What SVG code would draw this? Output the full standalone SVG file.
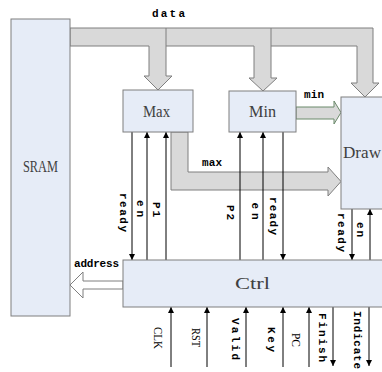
<svg xmlns="http://www.w3.org/2000/svg" width="382" height="372" viewBox="0 0 382 372">
<defs>
<marker id="ah" viewBox="0 0 8 8" refX="8" refY="4" markerWidth="6" markerHeight="6" markerUnits="userSpaceOnUse" orient="auto">
<path d="M0,0 L8,4 L0,8 Z" fill="#000"/>
</marker>
<style>
.box{fill:#e6ecf7;stroke:#7f7f7f;stroke-width:1}
.bus{fill:#d9d9d9;stroke:#7f7f7f;stroke-width:1}
.sig{stroke:#000;stroke-width:1;fill:none;marker-end:url(#ah)}
.bt{font-family:"Liberation Serif",serif;font-size:17px;fill:#404040}
.lb{font-family:"Liberation Mono",monospace;font-size:11px;font-weight:bold;fill:#000}
.ls{font-family:"Liberation Serif",serif;font-size:13px;fill:#000}
</style>
</defs>
<rect width="382" height="372" fill="#fff"/>
<g id="connectors">
<polygon class="bus" points="70,28 373,28 373,83 379,83 365,97 351,83 357,83 357,46 271,46 271,78 277,78 263,91 249,78 254,78 254,46 166,46 166,76 172,76 158,90 144,76 149,76 149,46 70,46"/>
<line x1="166" y1="28" x2="166" y2="46" stroke="#7f7f7f"/>
<line x1="271" y1="28" x2="271" y2="46" stroke="#7f7f7f"/>
<polygon points="296,107 334,107 334,101 341,112.5 334,124 334,119 296,119" fill="#d9d9d9" stroke="#6b8a6b"/>
<polygon class="bus" points="171,132 188,132 188,172 328,172 328,167 341,181.5 328,196 328,190 171,190"/>
<polygon points="123,281 83,281 83,272 70,285 83,298 83,289 123,289" fill="#fff" stroke="#7f7f7f"/>
<line class="sig" x1="132" y1="132" x2="132" y2="260"/>
<line class="sig" x1="147" y1="260" x2="147" y2="132"/>
<line class="sig" x1="166" y1="260" x2="166" y2="132"/>
<line class="sig" x1="240" y1="260" x2="240" y2="132"/>
<line class="sig" x1="263" y1="260" x2="263" y2="132"/>
<line class="sig" x1="283" y1="132" x2="283" y2="260"/>
<line class="sig" x1="352" y1="209" x2="352" y2="260"/>
<line class="sig" x1="370" y1="260" x2="370" y2="209"/>
<line class="sig" x1="171" y1="367" x2="171" y2="307"/>
<line class="sig" x1="207" y1="367" x2="207" y2="307"/>
<line class="sig" x1="246" y1="367" x2="246" y2="307"/>
<line class="sig" x1="283" y1="367" x2="283" y2="307"/>
<line class="sig" x1="309" y1="367" x2="309" y2="307"/>
<line class="sig" x1="333" y1="307" x2="333" y2="366"/>
<line class="sig" x1="369" y1="307" x2="369" y2="366"/>
<text class="lb" x="152" y="17" textLength="33" lengthAdjust="spacing">data</text>
<text class="lb" x="304" y="98" textLength="20" lengthAdjust="spacing">min</text>
<text class="lb" x="202" y="166" textLength="20" lengthAdjust="spacing">max</text>
<text class="lb" x="74" y="267" textLength="45" lengthAdjust="spacing">address</text>
<g text-anchor="middle" dominant-baseline="central">
<text class="lb" transform="translate(122.5,212.5) rotate(90)" textLength="39" lengthAdjust="spacing">ready</text>
<text class="lb" transform="translate(140,208.5) rotate(90)" textLength="17" lengthAdjust="spacing">en</text>
<text class="lb" transform="translate(156,209.5) rotate(90)" textLength="15" lengthAdjust="spacing">P1</text>
<text class="lb" transform="translate(230,212.5) rotate(90)" textLength="15" lengthAdjust="spacing">P2</text>
<text class="lb" transform="translate(254.5,211) rotate(90)" textLength="17" lengthAdjust="spacing">en</text>
<text class="lb" transform="translate(272.5,216) rotate(90)" textLength="38" lengthAdjust="spacing">ready</text>
<text class="lb" transform="translate(341,232.5) rotate(90)" textLength="39" lengthAdjust="spacing">ready</text>
<text class="lb" transform="translate(360,229.5) rotate(90)" textLength="15" lengthAdjust="spacing">en</text>
<text class="ls" transform="translate(158,338) rotate(90)" textLength="22" lengthAdjust="spacingAndGlyphs">CLK</text>
<text class="ls" transform="translate(196,337.5) rotate(90)" textLength="19" lengthAdjust="spacingAndGlyphs">RST</text>
<text class="lb" transform="translate(235,339) rotate(90)" textLength="42" lengthAdjust="spacing">Valid</text>
<text class="lb" transform="translate(271,339.5) rotate(90)" textLength="25" lengthAdjust="spacing">Key</text>
<text class="ls" transform="translate(296,340) rotate(90)" textLength="14" lengthAdjust="spacingAndGlyphs">PC</text>
<text class="lb" transform="translate(322,337.5) rotate(90)" textLength="49" lengthAdjust="spacing">Finish</text>
<text class="lb" transform="translate(357,340) rotate(90)" textLength="58" lengthAdjust="spacing">Indicate</text>
</g>
</g>
<g id="SRAM">
<rect class="box" x="11" y="19" width="59" height="297"/>
<text class="bt" x="23" y="172" textLength="35" lengthAdjust="spacingAndGlyphs">SRAM</text>
</g>
<g id="Max">
<rect class="box" x="123" y="90" width="70" height="42"/>
<text class="bt" x="143" y="117" textLength="27" lengthAdjust="spacingAndGlyphs">Max</text>
</g>
<g id="Min">
<rect class="box" x="229" y="91" width="67" height="41"/>
<text class="bt" x="249" y="117" textLength="27" lengthAdjust="spacingAndGlyphs">Min</text>
</g>
<g id="Draw">
<rect class="box" x="341" y="97" width="50" height="112"/>
<text class="bt" x="343" y="158" textLength="38" lengthAdjust="spacingAndGlyphs">Draw</text>
</g>
<g id="Ctrl">
<rect class="box" x="123" y="260" width="268" height="47"/>
<text class="bt" x="235" y="289" textLength="35" lengthAdjust="spacingAndGlyphs">Ctrl</text>
</g>
</svg>
